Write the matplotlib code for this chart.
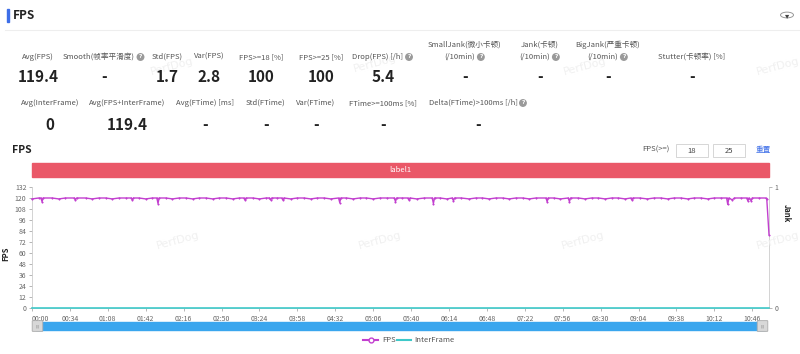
import matplotlib
matplotlib.use("Agg")
import matplotlib.pyplot as plt
from matplotlib.patches import Rectangle, FancyBboxPatch, Circle
from matplotlib.lines import Line2D

plt.rcParams["font.family"] = ["Noto Sans CJK SC", "DejaVu Sans"]

W, H = 800, 354

# ---- data ----
stat_labels_row1 = ["Avg(FPS)", "Smooth(帧率平滑度)", "Std(FPS)", "Var(FPS)", "FPS>=18 [%]", "FPS>=25 [%]",
                    "Drop(FPS) [/h]", "SmallJank(微小卡顿)\n(/10min)", "Jank(卡顿)\n(/10min)",
                    "BigJank(严重卡顿)\n(/10min)", "Stutter(卡顿率) [%]"]
stat_values_row1 = ["119.4", "-", "1.7", "2.8", "100", "100", "5.4", "-", "-", "-", "-"]
stat_help_row1 = [False, True, False, False, False, False, True, True, True, True, False]

stat_labels_row2 = ["Avg(InterFrame)", "Avg(FPS+InterFrame)", "Avg(FTime) [ms]", "Std(FTime)", "Var(FTime)",
                    "FTime>=100ms [%]", "Delta(FTime)>100ms [/h]"]
stat_values_row2 = ["0", "119.4", "-", "-", "-", "-", "-"]
stat_help_row2 = [False, False, False, False, False, False, True]

# FPS samples (seconds, fps)
fps_time = [0, 6, 8, 9, 10, 18, 24, 30, 38, 39, 40, 48, 54, 60, 66, 72, 78, 84, 89, 90,
            91, 96, 102, 108, 112, 113, 114, 120, 126, 132, 138, 144, 150, 156, 162, 168, 174, 180, 186, 190,
            191, 192, 198, 204, 210, 213, 214, 215, 220, 224, 225, 226, 232, 238, 244, 250, 256, 262, 268, 275,
            276, 277, 282, 288, 294, 300, 306, 312, 318, 325, 326, 327, 332, 337, 338, 339, 345, 352, 359, 360,
            361, 366, 372, 377, 378, 379, 385, 392, 398, 404, 410, 416, 422, 428, 434, 440, 446, 452, 461, 462,
            463, 468, 474, 481, 482, 483, 490, 496, 502, 508, 514, 520, 526, 532, 537, 538, 539, 545, 552, 558,
            564, 570, 576, 582, 588, 594, 600, 606, 612, 618, 623, 624, 625, 628, 630, 636, 641, 642, 643, 645,
            646, 652, 658, 659, 661]
fps_values = [119, 120, 120, 116, 120, 120, 119, 120, 120, 118, 120, 120, 119, 120, 120, 119, 120, 120, 120, 118,
              120, 120, 119, 120, 120, 114, 120, 120, 119, 120, 120, 119, 120, 120, 119, 120, 120, 119, 120, 120,
              118, 120, 120, 119, 120, 120, 118, 120, 120, 120, 118, 120, 119, 120, 120, 119, 120, 120, 119, 120,
              115, 120, 120, 119, 120, 120, 119, 120, 120, 120, 116, 120, 120, 120, 118, 120, 119, 120, 120, 114,
              120, 120, 119, 120, 117, 120, 120, 119, 120, 120, 119, 120, 120, 119, 120, 120, 119, 120, 120, 116,
              120, 120, 119, 120, 116, 120, 120, 119, 120, 120, 119, 120, 120, 119, 120, 118, 120, 120, 119, 120,
              120, 119, 120, 120, 119, 120, 120, 119, 120, 120, 120, 113, 120, 118, 120, 120, 120, 117, 120, 117,
              120, 120, 120, 119, 80]
interframe_time = [0, 661]
interframe_values = [0, 0]

tick_step = 34
tick_count = 20
y_ticks = [0, 12, 24, 36, 48, 60, 72, 84, 96, 108, 120, 132]

FPS_COLOR = "#c23fcf"
IF_COLOR = "#3ec9c9"


def fx(x):
    return x / W


def fy(y):
    return 1 - y / H


fig = plt.figure(figsize=(8, 3.54), dpi=100)
fig.patch.set_facecolor("white")
renderer = fig.canvas.get_renderer()

# ---- header ----
fig.add_artist(Rectangle((fx(7), fy(22)), 2 / W, 13 / H, transform=fig.transFigure, color="#3d6ee8"))
fig.text(fx(13), fy(15.5), "FPS", fontsize=8.5, fontweight="bold", va="center", color="#222")
fig.add_artist(Line2D([fx(5), fx(800)], [fy(30), fy(30)], transform=fig.transFigure, color="#eeeeee", lw=0.8))
fig.add_artist(Circle((fx(787), fy(15)), 6.5 / W, transform=fig.transFigure, fc="white", ec="#999", lw=0.7))
fig.text(fx(787), fy(15.5), "▾", fontsize=6, ha="center", va="center", color="#444", family="DejaVu Sans")


def help_icon(x, y):
    fig.text(fx(x), fy(y), "?", fontsize=4.2, ha="center", va="center", color="white", fontweight="bold",
             family="DejaVu Sans", bbox=dict(boxstyle="circle,pad=0.25", fc="#9a9a9a", ec="none"))


def stat_label(x, y, text, hlp):
    shift = -5 if hlp else 0
    t = fig.text(fx(x + shift), fy(y), text, fontsize=5.5, ha="center", va="center", color="#555")
    if hlp:
        bb = t.get_window_extent(renderer)
        help_icon(bb.x1 + 5.5, y)


# ---- stats ----
row1_x = [38, 104, 167, 209, 261, 321, 383, 465, 540, 608, 692]
for x, lab, val, hlp in zip(row1_x, stat_labels_row1, stat_values_row1, stat_help_row1):
    if "\n" in lab:
        first, second = lab.split("\n")
        stat_label(x, 45, first, False)
        stat_label(x, 57, second, hlp)
    else:
        stat_label(x, 57, lab, hlp)
    fig.text(fx(x), fy(77), val, fontsize=11, fontweight="bold", ha="center", va="center", color="#222")

row2_x = [50, 127, 205, 266, 316, 383, 478]
for x, lab, val, hlp in zip(row2_x, stat_labels_row2, stat_values_row2, stat_help_row2):
    stat_label(x, 103, lab, hlp)
    fig.text(fx(x), fy(125), val, fontsize=11, fontweight="bold", ha="center", va="center", color="#222")

# ---- watermarks ----
for (x, y) in [(172, 66), (375, 63), (585, 66), (778, 66), (178, 240), (380, 240), (583, 240), (778, 240)]:
    fig.text(fx(x), fy(y), "PerfDog", fontsize=8, rotation=15, ha="center", va="center", color="#f0f0f0",
             family="DejaVu Sans", zorder=0)

# ---- chart header ----
fig.text(fx(12), fy(150), "FPS", fontsize=7.5, fontweight="bold", va="center", color="#222")
fig.text(fx(670), fy(150), "FPS(>=)", fontsize=5.5, ha="right", va="center", color="#555")
for bx, txt in [(676, "18"), (713, "25")]:
    fig.add_artist(Rectangle((fx(bx), fy(157)), 32 / W, 13 / H, transform=fig.transFigure, fc="white",
                             ec="#d0d0d0", lw=0.6))
    fig.text(fx(bx + 16), fy(150.5), txt, fontsize=5.5, ha="center", va="center", color="#444")
fig.text(fx(763), fy(150), "重置", fontsize=5.5, ha="center", va="center", color="#3d6ee8")

fig.add_artist(Rectangle((fx(32), fy(177)), 737 / W, 14 / H, transform=fig.transFigure, color="#ea5868"))
fig.text(fx(400), fy(170), "label1", fontsize=5.5, ha="center", va="center", color="white")

# ---- main axes ----
ax = fig.add_axes([fx(32), fy(308), 737 / W, 121 / H])
ax.patch.set_alpha(0)
ax.plot(interframe_time, interframe_values, color=IF_COLOR, lw=1.2, zorder=4, clip_on=False)
ax.plot(fps_time, fps_values, color=FPS_COLOR, lw=1.0, marker="o", ms=1.1, mfc=FPS_COLOR, mec=FPS_COLOR,
        mew=0.3, zorder=5, clip_on=False)
ax.set_xlim(0, 661)
ax.set_ylim(0, 132)
ax.set_yticks(y_ticks)
xt = [i * tick_step for i in range(tick_count)]
ax.set_xticks(xt)
ax.set_xticklabels(["%02d:%02d" % (t // 60, t % 60) for t in xt])
ax.get_xticklabels()[0].set_horizontalalignment("left")
ax.spines["top"].set_visible(False)
for s in ["left", "bottom", "right"]:
    ax.spines[s].set_color("#cccccc")
    ax.spines[s].set_linewidth(0.6)
ax.tick_params(axis="both", labelsize=5, colors="#999", labelcolor="#666", length=2, width=0.5, pad=2)
ax.tick_params(axis="x", pad=3)
ax.set_ylabel("FPS", fontsize=5.5, fontweight="bold", color="#222")
ax.yaxis.set_label_coords(-22 / 737, 0.45)

ax2 = ax.twinx()
ax2.set_ylim(0, 1)
ax2.set_yticks([0, 1])
ax2.tick_params(axis="y", labelsize=5, colors="#999", labelcolor="#666", length=2, width=0.5, pad=2)
for s in ax2.spines.values():
    s.set_visible(False)
ax2.set_ylabel("Jank", fontsize=5.5, fontweight="bold", color="#222", rotation=270)
ax2.yaxis.set_label_coords(1 + 22 / 737, 0.78)

# ---- slider ----
fig.add_artist(Rectangle((fx(36), fy(330)), 729 / W, 8 / H, transform=fig.transFigure, color="#3aa6ee"))
for hx in [33, 758]:
    fig.add_artist(FancyBboxPatch((fx(hx), fy(331)), 9 / W, 10 / H, boxstyle="round,pad=0.001",
                                  transform=fig.transFigure, fc="#d8d8d8", ec="#aaaaaa", lw=0.6))
    fig.text(fx(hx + 4.5), fy(326), "|||", fontsize=3, ha="center", va="center", color="#888",
             family="DejaVu Sans")

# ---- legend ----
fig.add_artist(Line2D([fx(363), fx(378)], [fy(340), fy(340)], transform=fig.transFigure, color=FPS_COLOR,
                      lw=1.5))
fig.add_artist(Line2D([fx(370.5)], [fy(340)], transform=fig.transFigure, color=FPS_COLOR, marker="o", ms=3.5,
                      mfc="white", mec=FPS_COLOR, mew=1))
fig.text(fx(382), fy(340), "FPS", fontsize=5.5, va="center", color="#555")
fig.add_artist(Line2D([fx(397), fx(411)], [fy(340), fy(340)], transform=fig.transFigure, color=IF_COLOR,
                      lw=1.5))
fig.text(fx(414), fy(340), "InterFrame", fontsize=5.5, va="center", color="#555")

fig.savefig("out.png", dpi=100)
